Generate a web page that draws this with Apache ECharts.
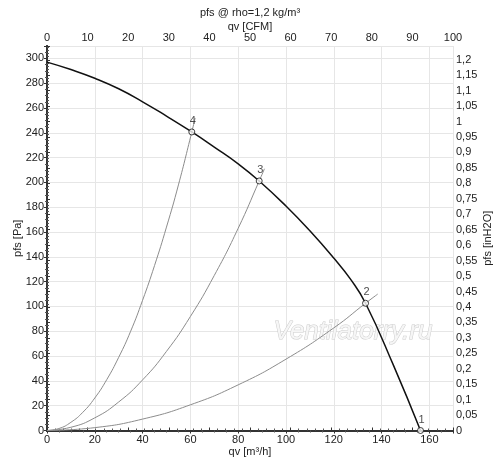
<!DOCTYPE html>
<html><head><meta charset="utf-8">
<script src="https://cdn.jsdelivr.net/npm/echarts@6/dist/echarts.min.js"></script>
<style>html,body{margin:0;padding:0;background:#fff}#c{width:500px;height:466px}</style>
</head><body><div id="c"></div>
<script>
// Fan curve pfs [Pa] vs qv [m3/h]
const fanQ =  [0, 10, 20, 30, 40, 50, 60.6, 70, 80, 88.8, 100, 110, 120, 127, 133.3, 145, 156.3];
const fanP =  [297, 291, 284, 275.5, 265, 253.5, 240.7, 228.5, 215, 201.2, 181, 161, 139, 122, 102.6, 52.5, 0];
// System curves
const sys4Q = [0, 5, 10, 15, 20, 25, 30, 35, 40, 45, 50, 55, 60.6, 62];
const sys4P = [0, 1.6, 6.6, 14.7, 26.2, 41, 59, 80, 105, 133, 164, 198, 240.7, 252];
const sys3Q = [0, 10, 20, 30, 40, 50, 60, 70, 80, 88.8, 91];
const sys3P = [0, 2.6, 10.2, 23, 40.8, 63.8, 91.9, 125, 163, 201.2, 211];
const sys2Q = [0, 20, 40, 60, 80, 100, 120, 133.3, 138.4];
const sys2P = [0, 2.3, 9.2, 20.7, 36.8, 57.5, 82.7, 102.6, 110];
// Operating points
const ptLabels = ['1', '2', '3', '4'];
const ptQ = [156.3, 133.3, 88.8, 60.6];
const ptP = [0, 102.6, 201.2, 240.7];

const pair = (xs, ys) => xs.map((x, i) => [x, ys[i]]);
const font = 'Liberation Sans, Arial, sans-serif';
const chart = echarts.init(document.getElementById('c'), null, {renderer: 'canvas'});
const axisLineStyle = {color: '#333', width: 2};
const lbl = {color: '#222', fontSize: 11, fontFamily: font};
const nameStyle = {fontSize: 11, color: '#222', fontFamily: font};
const fmtComma = v => String(Math.round(v * 100) / 100).replace('.', ',');

chart.setOption({
  animation: false,
  backgroundColor: '#fff',
  title: {
    text: 'pfs @ rho=1,2 kg/m³', left: 'center', top: 7, padding: 0,
    textStyle: {fontSize: 11, fontWeight: 'normal', color: '#222', fontFamily: font}
  },
  grid: {left: 47, right: 47, top: 46, bottom: 35.5, containLabel: false, outerBoundsMode: 'none'},
  xAxis: [
    {type: 'value', position: 'bottom', min: 0, max: 169.9, interval: 20,
     name: 'qv [m³/h]', nameLocation: 'middle', nameGap: 16, nameMoveOverlap: false,
     nameTextStyle: nameStyle,
     axisLine: {lineStyle: axisLineStyle}, axisTick: {length: 3, lineStyle: {color: '#333'}},
     minorTick: {show: true, splitNumber: 4, length: 2, lineStyle: {color: '#555'}},
     axisLabel: Object.assign({showMaxLabel: false, margin: 4}, lbl),
     splitLine: {show: true, lineStyle: {color: '#e6e6e6', width: 1}}},
    {type: 'value', position: 'top', min: 0, max: 100, interval: 10,
     name: 'qv [CFM]', nameLocation: 'middle', nameGap: 14, nameMoveOverlap: false,
     nameTextStyle: nameStyle,
     axisLine: {lineStyle: axisLineStyle}, axisTick: {length: 3, lineStyle: {color: '#333'}},
     minorTick: {show: true, splitNumber: 5, length: 2, lineStyle: {color: '#555'}},
     axisLabel: Object.assign({margin: 3}, lbl),
     splitLine: {show: false}}
  ],
  yAxis: [
    {type: 'value', position: 'left', min: 0, max: 310, interval: 20,
     name: 'pfs [Pa]', nameLocation: 'middle', nameGap: 24, nameRotate: 90, nameMoveOverlap: false,
     nameTextStyle: nameStyle,
     axisLine: {show: true, lineStyle: axisLineStyle}, axisTick: {show: true, length: 3, lineStyle: {color: '#333'}},
     minorTick: {show: true, splitNumber: 4, length: 2, lineStyle: {color: '#555'}},
     axisLabel: Object.assign({showMaxLabel: false, margin: 3}, lbl),
     splitLine: {show: true, lineStyle: {color: '#e6e6e6', width: 1}}},
    {type: 'value', position: 'right', min: 0, max: 310 / 249.089, interval: 0.05,
     name: 'pfs [inH2O]', nameLocation: 'middle', nameGap: 29, nameRotate: 90, nameMoveOverlap: false,
     nameTextStyle: nameStyle,
     axisLine: {show: true, lineStyle: axisLineStyle}, axisTick: {show: true, length: 3, lineStyle: {color: '#333'}},
     minorTick: {show: true, splitNumber: 5, length: 2, lineStyle: {color: '#555'}},
     axisLabel: Object.assign({showMaxLabel: false, margin: 3, formatter: fmtComma}, lbl),
     splitLine: {show: false}}
  ],
  graphic: [{
    type: 'text', left: 273, top: 318, z: 1,
    style: {text: 'Ventilatorry.ru', font: 'italic 26px ' + font, fill: '#f6f6f6',
            stroke: '#cccccc', lineWidth: 1}
  }],
  series: [
    {type: 'line', data: pair(sys4Q, sys4P), smooth: true, showSymbol: false, z: 2,
     lineStyle: {color: '#8c8c8c', width: 1}},
    {type: 'line', data: pair(sys3Q, sys3P), smooth: true, showSymbol: false, z: 2,
     lineStyle: {color: '#8c8c8c', width: 1}},
    {type: 'line', data: pair(sys2Q, sys2P), smooth: true, showSymbol: false, z: 2,
     lineStyle: {color: '#8c8c8c', width: 1}},
    {type: 'line', data: pair(fanQ, fanP), smooth: true, showSymbol: false, z: 3,
     lineStyle: {color: '#111', width: 1.5}},
    {type: 'scatter', z: 4,
     data: ptQ.map((q, i) => ({value: [q, ptP[i]], name: ptLabels[i]})),
     symbol: 'circle', symbolSize: 6,
     itemStyle: {color: '#fff', borderColor: '#111', borderWidth: 1},
     label: {show: true, position: 'top', distance: 2, offset: [1, 0], formatter: p => p.name,
             fontSize: 11, color: '#222', fontFamily: font}}
  ]
});
</script></body></html>
